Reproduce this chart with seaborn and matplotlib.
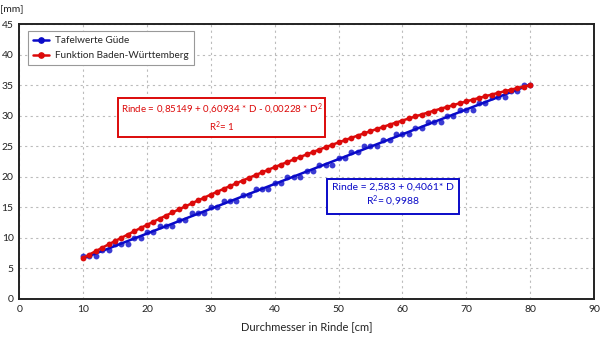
import matplotlib
matplotlib.use("Agg")
import matplotlib.pyplot as plt
import seaborn as sns
import pandas as pd

# Data
durchmesser = list(range(10, 81))
tafelwerte_guede = [7, 7, 7, 8, 8, 9, 9, 9, 10, 10,
                    11, 11, 12, 12, 12, 13, 13, 14, 14, 14,
                    15, 15, 16, 16, 16, 17, 17, 18, 18, 18,
                    19, 19, 20, 20, 20, 21, 21, 22, 22, 22,
                    23, 23, 24, 24, 25, 25, 25, 26, 26, 27,
                    27, 27, 28, 28, 29, 29, 29, 30, 30, 31,
                    31, 31, 32, 32, 33, 33, 33, 34, 34, 35, 35]
funktion_bw = [6.72, 7.28, 7.84, 8.39, 8.94, 9.48, 10.02, 10.55, 11.08, 11.61,
               12.13, 12.64, 13.15, 13.66, 14.16, 14.66, 15.15, 15.64, 16.13, 16.60,
               17.08, 17.55, 18.02, 18.48, 18.93, 19.39, 19.83, 20.28, 20.71, 21.15,
               21.58, 22.00, 22.42, 22.84, 23.25, 23.65, 24.06, 24.45, 24.85, 25.23,
               25.62, 26.00, 26.37, 26.74, 27.11, 27.47, 27.82, 28.18, 28.52, 28.87,
               29.20, 29.54, 29.87, 30.19, 30.51, 30.83, 31.14, 31.44, 31.74, 32.04,
               32.33, 32.62, 32.90, 33.18, 33.46, 33.73, 33.99, 34.25, 34.51, 34.76, 35.01]
x_ticks = [0, 10, 20, 30, 40, 50, 60, 70, 80, 90]
y_ticks = [0, 5, 10, 15, 20, 25, 30, 35, 40, 45]
label_blue = "Tafelwerte Güde"
label_red = "Funktion Baden-Württemberg"
eq_red = "Rinde = 0,85149 + 0,60934 * D - 0,00228 * D$^2$\nR$^2$= 1"
eq_blue = "Rinde = 2,583 + 0,4061* D\nR$^2$= 0,9988"

df = pd.DataFrame({"D": durchmesser, "guede": tafelwerte_guede, "bw": funktion_bw})

sns.set_theme(style="white")
plt.rcParams['font.family'] = ['Lato', 'DejaVu Sans']
plt.rcParams['mathtext.fontset'] = 'custom'
plt.rcParams['mathtext.rm'] = 'Lato'
plt.rcParams['mathtext.it'] = 'Lato'

BLUE = "#0a0ac8"
RED = "#dc0a0a"

fig = plt.figure(figsize=(6, 3.4), dpi=100)
ax = fig.add_axes([0.032, 0.1206, 0.958, 0.8088])

# Blue: table values with linear trend line
sns.regplot(data=df, x="D", y="guede", ax=ax, ci=None, truncate=True,
            color=BLUE, scatter_kws=dict(s=18, linewidths=0, zorder=3),
            line_kws=dict(lw=1.8, zorder=3))
# Red: function values connected
sns.lineplot(data=df, x="D", y="bw", ax=ax, color=RED, lw=1.8,
             marker="o", markersize=4.2, markeredgewidth=0, zorder=4)

ax.set_xlim(0, 90)
ax.set_ylim(0, 45)
ax.set_xticks(x_ticks)
ax.set_yticks(y_ticks)
ax.tick_params(axis="both", labelsize=7.5, length=3, width=0.8, pad=1.5,
               direction="out", color="#222222", labelcolor="#222222")
ax.tick_params(axis="y", pad=1)
ax.grid(True, color="#bbbbbb", linestyle=(0, (2, 3)), lw=0.8)
for sp in ax.spines.values():
    sp.set_visible(True)
    sp.set_color("#222222")
    sp.set_linewidth(1.4)

ax.set_xlabel("Durchmesser in Rinde [cm]", fontsize=8, color="#222222", labelpad=5)
ax.set_ylabel("")
fig.text(0.0, 0.985, "[mm]", fontsize=7.5, color="#222222", ha="left", va="top")

from matplotlib.lines import Line2D
handles = [Line2D([0], [0], color=BLUE, lw=1.8, marker="o", markersize=3.8),
           Line2D([0], [0], color=RED, lw=1.8, marker="o", markersize=3.8)]
leg = ax.legend(handles, [label_blue, label_red], loc="upper left",
                bbox_to_anchor=(0.01, 0.985), fontsize=7.2, frameon=True,
                fancybox=False, edgecolor="#999999", framealpha=1,
                borderpad=0.5, handlelength=1.6, labelspacing=0.6, handletextpad=0.6,
                borderaxespad=0.3)
leg.get_frame().set_linewidth(0.8)

ax.text(31.7, 29.6, eq_red, color=RED, fontsize=7.0, ha="center", va="center",
        linespacing=1.25,
        bbox=dict(boxstyle="square,pad=0.28", fc="white", ec=RED, lw=1.4), zorder=6)
ax.text(58.5, 16.9, eq_blue, color=BLUE, fontsize=7.5, ha="center", va="center",
        linespacing=1.25,
        bbox=dict(boxstyle="square,pad=0.5", fc="white", ec=BLUE, lw=1.4), zorder=6)

fig.savefig("out.png", dpi=100)
